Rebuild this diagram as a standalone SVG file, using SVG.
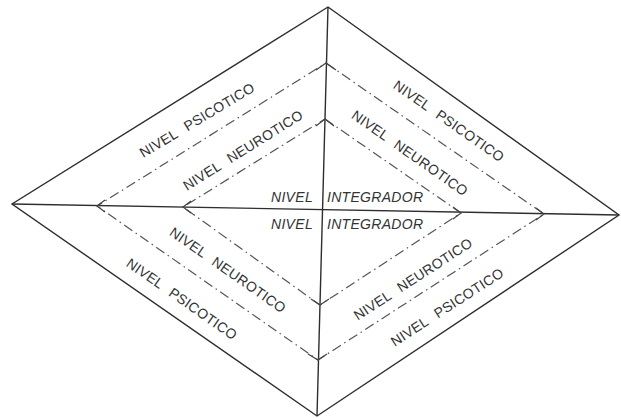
<svg xmlns="http://www.w3.org/2000/svg" width="621" height="418" viewBox="0 0 621 418">
<style>
  .solid{fill:none;stroke:#2e2e2e;stroke-width:1.4;stroke-linejoin:miter}
  .dd{fill:none;stroke:#555;stroke-width:1.2;stroke-dasharray:10 4 1.5 4}
  .chev{fill:none;stroke:#444;stroke-width:1.2}
  .lbl{font-family:"Liberation Sans","DejaVu Sans",sans-serif;font-size:14px;fill:#333;text-anchor:middle;dominant-baseline:central;letter-spacing:0.3px;word-spacing:6px}
  .int{font-family:"Liberation Sans","DejaVu Sans",sans-serif;font-size:14px;fill:#333;font-style:italic;letter-spacing:0.3px}
</style>
<rect width="621" height="418" fill="#fff"/>
<g id="connectors">
  <polygon id="outer" class="solid" points="328,7 619,215 317,416 12,204"/>
  <line class="solid" x1="328" y1="7" x2="317" y2="416"/>
  <line class="solid" x1="12" y1="204" x2="619" y2="215"/>
  <polygon id="middle" class="dd" points="326,63 544,214 318,360 97,206"/>
  <polygon id="inner" class="dd" points="325,119 461,213 320,305 183,207"/>
  <path class="chev" d="M316,70 L326,63 L336,70 M105,200 L97,206 L105,212 M536,208 L544,214 L536,220 M308,354 L318,360 L327,354"/>
  <path class="chev" d="M316,126 L325,119 L334,126 M191,201 L183,207 L191,213 M453,207 L461,213 L453,219 M311,299 L320,305 L329,299"/>
</g>
<g id="psicotico-ul"><text class="lbl" transform="translate(197,120) rotate(-31)">NIVEL PSICOTICO</text></g>
<g id="neurotico-ul"><text class="lbl" transform="translate(243,150) rotate(-32)">NIVEL NEUROTICO</text></g>
<g id="psicotico-ur"><text class="lbl" transform="translate(449,121) rotate(35)">NIVEL PSICOTICO</text></g>
<g id="neurotico-ur"><text class="lbl" transform="translate(410,153) rotate(35)">NIVEL NEUROTICO</text></g>
<g id="integrador-top"><text class="int" x="271" y="202">NIVEL <tspan x="327">INTEGRADOR</tspan></text></g>
<g id="integrador-bottom"><text class="int" x="271" y="229">NIVEL <tspan x="327">INTEGRADOR</tspan></text></g>
<g id="neurotico-ll"><text class="lbl" transform="translate(228,270) rotate(35)">NIVEL NEUROTICO</text></g>
<g id="psicotico-ll"><text class="lbl" transform="translate(182,299) rotate(35)">NIVEL PSICOTICO</text></g>
<g id="neurotico-lr"><text class="lbl" transform="translate(413,279) rotate(-33)">NIVEL NEUROTICO</text></g>
<g id="psicotico-lr"><text class="lbl" transform="translate(447,307) rotate(-33)">NIVEL PSICOTICO</text></g>
</svg>
